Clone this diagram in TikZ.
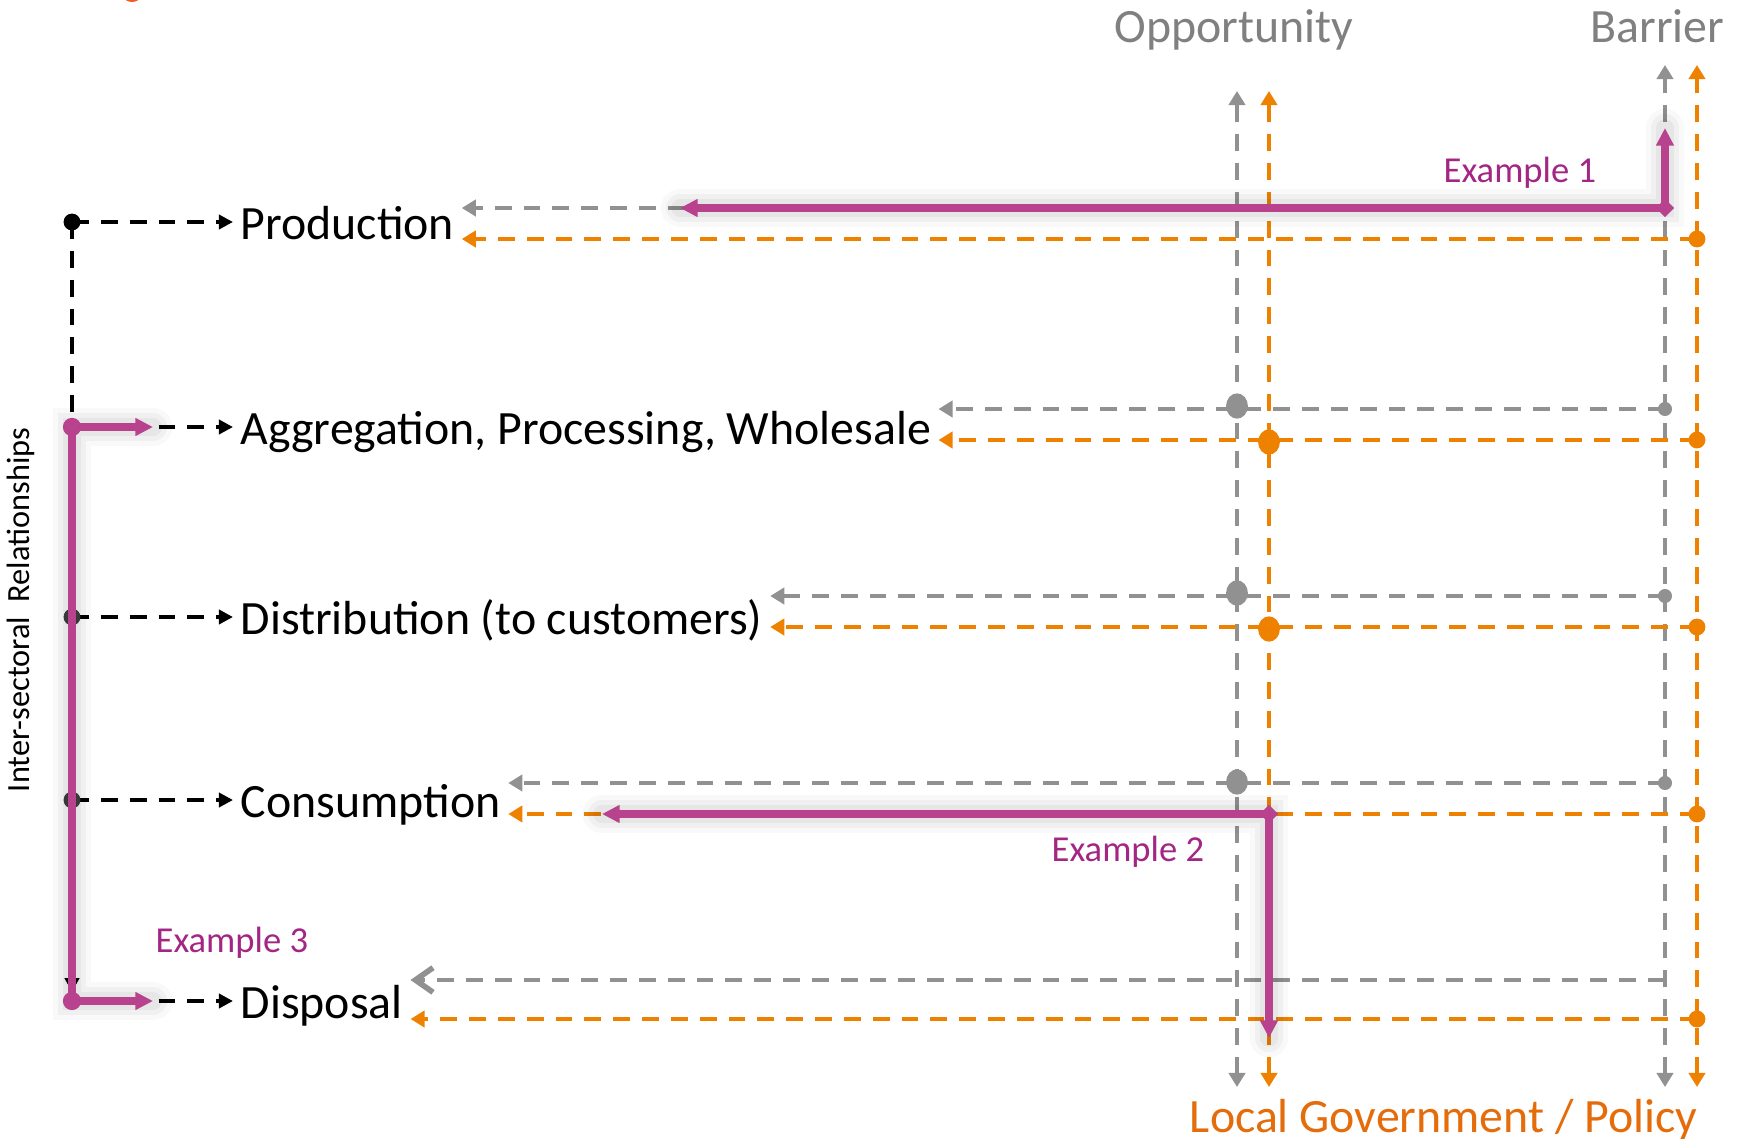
\documentclass[tikz,border=0pt]{standalone}
\usepackage{fontspec}
\setmainfont{Carlito}
\usetikzlibrary{arrows.meta,shapes.geometric}
\definecolor{linegray}{RGB}{145,145,145}
\definecolor{lineorange}{RGB}{238,130,0}
\definecolor{textgray}{RGB}{128,128,128}
\definecolor{textorange}{RGB}{228,108,10}
\definecolor{plum}{RGB}{184,66,142}
\definecolor{plumtext}{RGB}{163,38,132}
\definecolor{dotgray}{RGB}{64,64,64}
\definecolor{titlered}{RGB}{240,90,40}

\begin{document}
\begin{tikzpicture}[x=0.01cm,y=-0.01cm]
    \tikzstyle{gline} = [->, >={Triangle[length=4pt,width=4.6pt]}, draw=linegray,
        line width=1.4pt, dash pattern=on 4.8pt off 3.4pt]
    \tikzstyle{oline} = [gline, draw=lineorange]
    \tikzstyle{bline} = [gline, draw=black, >={Triangle[length=4pt,width=4pt]}]
    \tikzstyle{pline} = [<->, >={Triangle[length=5pt,width=4.8pt]}, draw=plum,
        line width=2pt, line join=round,
        preaction={draw=black, opacity=.025, line width=11pt, line cap=round, -},
        preaction={draw=black, opacity=.035, line width=8pt, line cap=round, -},
        preaction={draw=black, opacity=.045, line width=5pt, line cap=round, -}]
    \tikzstyle{lab} = [anchor=west, inner xsep=2pt, inner ysep=0pt,
        text height=10.2pt, text depth=0pt, font=\fontsize{13.6}{16}\selectfont]
    \tikzstyle{head} = [inner sep=0pt, font=\fontsize{13.6}{16}\selectfont]
    \tikzstyle{ex} = [anchor=base west, inner sep=0pt, text=plumtext,
        font=\fontsize{10.4}{12}\selectfont]
    \tikzstyle{dot} = [circle, inner sep=0pt, minimum size=4.8pt]
    \tikzstyle{bigdot} = [ellipse, inner sep=0pt, minimum width=6.2pt,
        minimum height=7.2pt]
    \tikzstyle{pdia} = [diamond, fill=plum, inner sep=0pt, minimum size=5.4pt]

    \useasboundingbox (0,0) rectangle (1747,1139);
    \fill[titlered] (132,-5) circle[x radius=9, y radius=7];

    % headings
    \node (opp) [head, anchor=base west, text=textgray] at (1114,42) {Opportunity};
    \node (bar) [head, anchor=base east, text=textgray] at (1725,42) {Barrier};
    \node (gov) [head, anchor=base east, text=textorange] at (1698,1132)
        {Local Government / Policy};
    \node (inter) [rotate=90, anchor=base, inner sep=0pt,
        font=\fontsize{9.2}{11}\selectfont] at (30,610)
        {Inter-sectoral\ \ Relationships};

    % sectors
    \node (prod) [lab] at (233,222) {Production};
    \node (agg) [lab] at (233,427) {Aggregation, Processing, Wholesale};
    \node (dist) [lab] at (233,617) {Distribution (to customers)};
    \node (cons) [lab] at (233,800) {Consumption};
    \node (disp) [lab] at (233,1001) {Disposal};

    \coordinate (sprod) at (72,222);
    \coordinate (sagg) at (72,427);
    \coordinate (sdist) at (72,617);
    \coordinate (scons) at (72,800);
    \coordinate (sdisp) at (72,1001);

    \coordinate (gprod) at (1665,208);  \coordinate (oprod) at (1697,239);
    \coordinate (gagg) at (1665,409);   \coordinate (oagg) at (1697,440);
    \coordinate (gdist) at (1665,596);  \coordinate (odist) at (1697,627);
    \coordinate (gcons) at (1665,783);  \coordinate (ocons) at (1697,814);
    \coordinate (gdisp) at (1665,980);  \coordinate (odisp) at (1697,1019);

    \coordinate (ogt) at (1237,91);  \coordinate (ogb) at (1237,1087);
    \coordinate (oot) at (1269,91);  \coordinate (oob) at (1269,1087);
    \coordinate (bgt) at (1665,65);  \coordinate (bgb) at (1665,1087);
    \coordinate (bot) at (1697,65);  \coordinate (bob) at (1697,1087);

    % opportunity / barrier axes
    \draw[gline,<->] (ogb) -- (ogt);
    \draw[oline,<->] (oob) -- (oot);
    \draw[gline,<->] (bgb) -- (bgt);
    \draw[oline,<->] (bob) -- (bot);

    \foreach \r in {prod,agg,dist,cons} {
        \draw[gline] (g\r) -- (\r.east |- g\r);
        \draw[oline] (o\r) -- (\r.east |- o\r);
    }
    \draw[gline, >={Straight Barb[length=5pt,width=7pt,line width=1.6pt]}]
        (gdisp) -- (disp.east |- gdisp);
    \draw[oline] (odisp) -- (disp.east |- odisp);

    % inter-sectoral
    \draw[bline, shorten >=2.5pt] (sprod) -- (sdisp);
    \foreach \r in {prod,agg,dist,cons,disp}
        \draw[bline] (s\r) -- (\r);

    \node (dprod) [dot, fill=black] at (sprod) {};
    \node (ddist) [dot, fill=dotgray] at (sdist) {};
    \node (dcons) [dot, fill=dotgray] at (scons) {};
    \foreach \r in {agg,dist,cons}
        \node (bg\r) [dot, fill=linegray, minimum size=4pt] at (g\r) {};
    \foreach \r in {prod,agg,dist,cons,disp}
        \node (bo\r) [dot, fill=lineorange] at (o\r) {};
    \node (opgagg) [bigdot, fill=linegray] at (1237,406) {};
    \node (opgdist) [bigdot, fill=linegray] at (1237,593) {};
    \node (opgcons) [bigdot, fill=linegray] at (1237,782) {};
    \node (opoagg) [bigdot, fill=lineorange] at (1269,442) {};
    \node (opodist) [bigdot, fill=lineorange] at (1269,629) {};

    % examples
    \coordinate (e1u) at (1665,128);
    \coordinate (e1l) at (680,208);
    \coordinate (e2c) at (1269,814);
    \coordinate (e2l) at (602,814);
    \coordinate (e2d) at (1269,1038);
    \coordinate (e3a) at (153,427);
    \coordinate (e3b) at (153,1001);

    \draw[pline] (e1u) -- (gprod) -- (e1l);
    \draw[pline] (e2l) -- (e2c) -- (e2d);
    \draw[pline] (e3a) -- (sagg) -- (sdisp) -- (e3b);

    \node (dia1) [pdia] at (gprod) {};
    \node (dia2) [pdia] at (e2c) {};
    \node (pagg) [dot, fill=plum, minimum size=5.2pt] at (sagg) {};
    \node (pdisp) [dot, fill=plum, minimum size=5.2pt] at (sdisp) {};

    \node (ex1) [ex] at (1443,182) {Example 1};
    \node (ex2) [ex] at (1051,861) {Example 2};
    \node (ex3) [ex] at (155,952) {Example 3};
\end{tikzpicture}
\end{document}
